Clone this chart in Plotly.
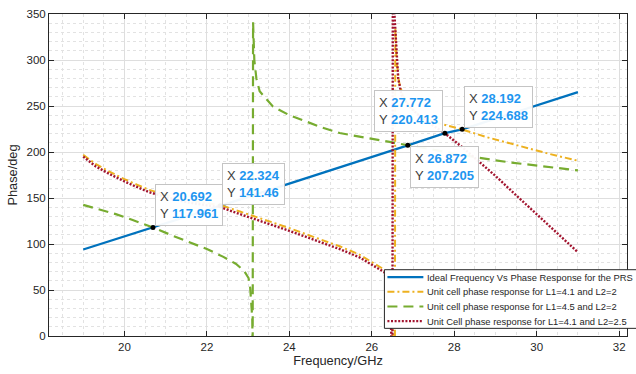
import plotly.graph_objects as go

# ---------------- data ----------------
freq_ideal = [19, 20.692, 22.324, 26.872, 27.772, 28.192, 31]
phase_ideal = [94, 117.961, 141.46, 207.205, 220.413, 224.688, 265]

# Unit cell L1=4.1, L2=2
freq_a = [19, 19.3, 19.6, 19.79, 20.0, 20.3, 20.59, 21.0, 21.5, 22.0, 22.33, 22.8, 23.4, 24.0,
          24.6, 25.22, 25.7, 26.02, 26.31, 26.45, 26.56, 26.57, 26.6, 26.66, 26.75, 26.9, 27.1,
          27.35, 27.64, 27.9, 28.19, 28.8, 29.58, 30.3, 31.0]
phase_a = [197, 187, 179.5, 175, 170.5, 164.5, 159, 153.5, 148, 144.5, 142.3, 135.3, 126.5, 117.3,
           107.5, 97.5, 88.5, 79.5, 72, 50, -40, 335, 300, 276, 262, 250, 242,
           236, 231, 228, 224.5, 216, 206.3, 198, 190.5]

# Unit cell L1=4.5, L2=2
freq_b = [19, 19.5, 19.79, 20.2, 20.692, 21.2, 21.6, 22.0, 22.4, 22.7, 22.9, 23.01, 23.05, 23.08,
          23.1, 23.11, 23.12, 23.15, 23.2, 23.28, 23.6, 24.0, 24.41, 24.8, 25.22, 25.8, 26.35,
          26.872, 27.5, 28.0, 28.61, 29.3, 30.0, 30.5, 31.0]
phase_b = [142.5, 136, 132.5, 126, 117.961, 108.5, 101.5, 94.5, 86, 78.5, 71, 63, 52, 38,
           20, -20, 341, 300, 280, 266, 249.5, 240, 233, 226.5, 220.6, 216, 211.7,
           207.2, 202, 198, 193.6, 189, 185, 182.5, 180]

# Unit cell L1=4.1, L2=2.5
freq_c = [19, 19.3, 19.6, 19.79, 20.0, 20.3, 20.59, 21.0, 21.5, 22.0, 22.33, 22.8, 23.4, 24.0,
          24.6, 25.22, 25.7, 26.02, 26.3, 26.44, 26.5, 26.51, 26.57, 26.64, 26.72, 26.9, 27.2,
          27.5, 27.772, 28.2, 28.6, 29.0, 29.5, 30.0, 30.5, 31.0]
phase_c = [195, 184.5, 177, 172.5, 168, 162, 156.5, 151, 145.5, 142, 140, 132.5, 123.5, 114.3,
           104.5, 94.5, 85.5, 76.5, 69.5, 48, -40, 380, 330, 280, 262, 250, 237,
           228, 220.4, 205, 190, 174, 153, 132, 111, 91]

tip_x = [20.692, 22.324, 27.772, 26.872, 28.192]
tip_y = [117.961, 141.46, 220.413, 207.205, 224.688]
tip_xanchor = ["left", "left", "right", "left", "left"]
tip_yanchor = ["bottom", "bottom", "bottom", "top", "bottom"]

legend_names = [
    "Ideal Frequency Vs Phase Response for the PRS",
    "Unit cell phase response for L1=4.1 and L2=2",
    "Unit cell phase response for L1=4.5 and L2=2",
    "Unit Cell phase response for L1=4.1 and L2=2.5",
]

x_ticks = [20, 22, 24, 26, 28, 30, 32]
y_ticks = [0, 50, 100, 150, 200, 250, 300, 350]

# ---------------- styles ----------------
FONT = "Liberation Sans, Arial, Helvetica, sans-serif"
TXT = "#262626"
colors = ["#0072BD", "#EDB120", "#77AC30", "#A2142F"]
widths = [2.3, 2.0, 2.2, 2.4]
dashes = ["solid", "7px,3px,2px,3px", "10px,6px", "2px,1.6px"]

W, H = 636, 374
ML, MR, MT, MB = 49, 8, 12, 38
PW, PH = W - ML - MR, H - MT - MB


def px_x(px):
    return (px - ML) / PW


def px_y(py):
    return (H - MB - py) / PH


fig = go.Figure()
series = [(freq_ideal, phase_ideal), (freq_a, phase_a), (freq_b, phase_b), (freq_c, phase_c)]
for (fx, fy), name, c, w, d in zip(series, legend_names, colors, widths, dashes):
    fig.add_trace(go.Scatter(x=fx, y=fy, mode="lines", name=name,
                             line=dict(color=c, width=w, dash=d), showlegend=False,
                             hoverinfo="skip"))

fig.add_trace(go.Scatter(x=tip_x, y=tip_y, mode="markers", showlegend=False,
                         marker=dict(color="black", size=5), hoverinfo="skip"))

annotations = []
for tx, ty, xa, ya in zip(tip_x, tip_y, tip_xanchor, tip_yanchor):
    txt = (f"<span style='color:#404040'>X</span> <b><span style='color:#1E96F0'>{tx}</span></b><br>"
           f"<span style='color:#404040'>Y</span> <b><span style='color:#1E96F0'>{ty}</span></b>")
    annotations.append(dict(x=tx, y=ty, xref="x", yref="y", text=txt, showarrow=False,
                            xanchor=xa, yanchor=ya, align="left",
                            xshift=2 if xa == "left" else -2,
                            yshift=1 if ya == "bottom" else -1,
                            bgcolor="rgba(255,255,255,0.95)", bordercolor="#C4C4C4",
                            borderwidth=1, borderpad=4,
                            font=dict(family=FONT, size=13, color="#404040")))

# manual legend (MATLAB-like compact box)
shapes = [dict(type="rect", xref="paper", yref="paper",
               x0=px_x(385), x1=px_x(645), y0=px_y(328.3), y1=px_y(269.3),
               fillcolor="white", line=dict(color=TXT, width=1), layer="above")]
row_py = [276.7, 291.5, 306.3, 321]
for name, c, w, d, py in zip(legend_names, colors, widths, dashes, row_py):
    shapes.append(dict(type="line", xref="paper", yref="paper",
                       x0=px_x(388), x1=px_x(424), y0=px_y(py), y1=px_y(py),
                       line=dict(color=c, width=w, dash=d), layer="above"))
    annotations.append(dict(x=px_x(427), y=px_y(py), xref="paper", yref="paper",
                            text=name, showarrow=False, xanchor="left", yanchor="middle",
                            borderpad=0, font=dict(family=FONT, size=9.4, color=TXT)))

axis_common = dict(showline=True, linecolor=TXT, linewidth=1, mirror="ticks",
                   ticks="inside", ticklen=5, tickcolor=TXT, tickwidth=1,
                   showgrid=True, gridcolor="#DEDEDE", gridwidth=1, zeroline=False,
                   tickfont=dict(family=FONT, size=11.5, color=TXT))

fig.update_layout(
    width=W, height=H,
    margin=dict(l=ML, r=MR, t=MT, b=MB),
    paper_bgcolor="white", plot_bgcolor="white",
    xaxis=dict(range=[18.17, 32.19], tickvals=x_ticks,
               minor=dict(dtick=0.5, showgrid=True, gridcolor="#E2E2E2", griddash="dot", ticks=""),
               title=dict(text="Frequency/GHz", font=dict(family=FONT, size=12.8, color=TXT),
                          standoff=4),
               **axis_common),
    yaxis=dict(range=[0, 350], tickvals=y_ticks,
               minor=dict(dtick=10, showgrid=True, gridcolor="#E2E2E2", griddash="dot", ticks=""),
               title=dict(text="Phase/deg", font=dict(family=FONT, size=12.8, color=TXT),
                          standoff=6),
               **axis_common),
    shapes=shapes,
    annotations=annotations,
    showlegend=False,
)

fig.write_html("out.html", config={"displayModeBar": False},
               post_script="document.body.style.margin='0';document.body.style.padding='0';")
